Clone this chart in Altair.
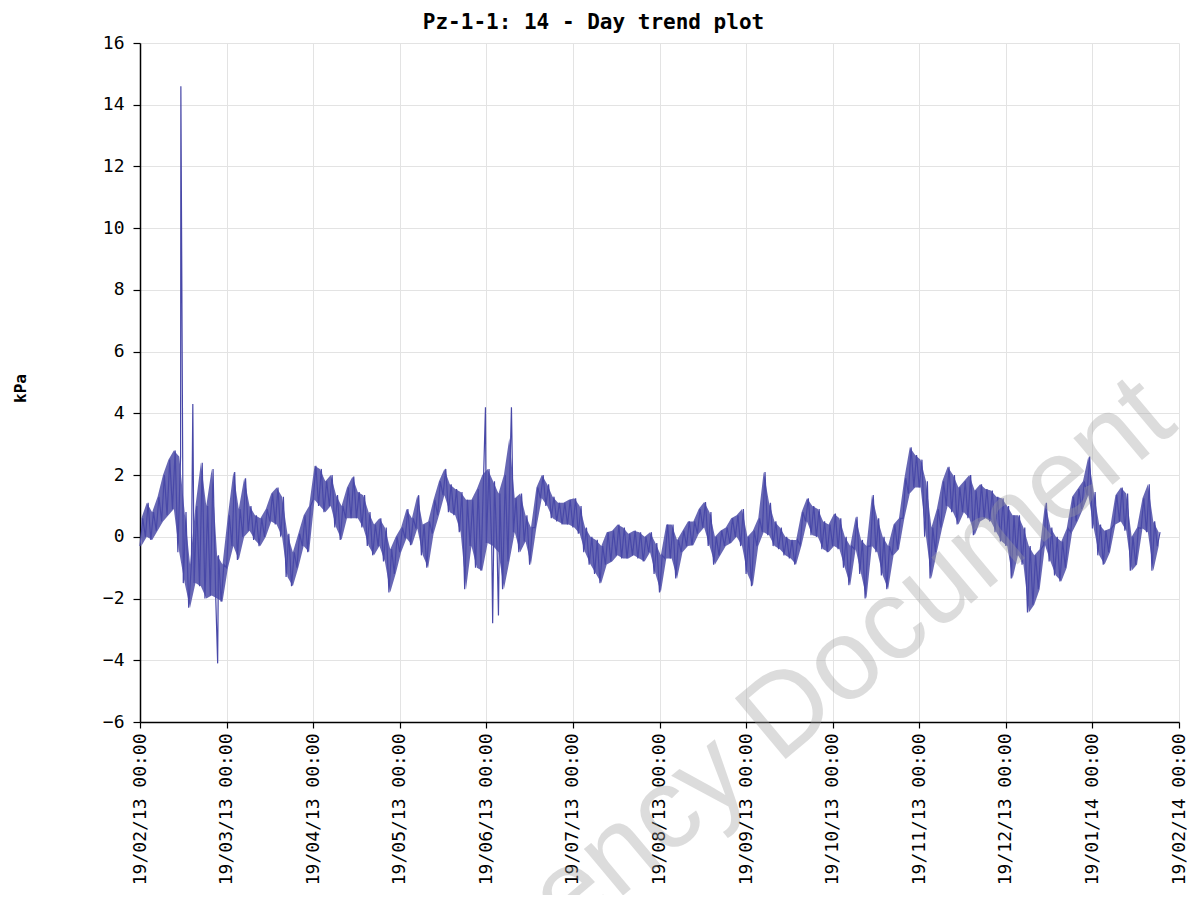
import altair as alt
import pandas as pd

TITLE = "Pz-1-1: 14 - Day trend plot"
Y_TITLE = "kPa"
WATERMARK = "Agency Document"
TICK_DATES = ["19/02/13", "19/03/13", "19/04/13", "19/05/13", "19/06/13", "19/07/13",
              "19/08/13", "19/09/13", "19/10/13", "19/11/13", "19/12/13", "19/01/14", "19/02/14"]
TICK_TIME = "00:00"
Y_TICKS = [-6, -4, -2, 0, 2, 4, 6, 8, 10, 12, 14, 16]

# readings: each sample bucket spans 1/16 month; low / high of the trace in that bucket (kPa)
STEP = 1 / 16
LOW = [-0.3, 0.0, -0.1, 0.2, 0.5, 0.7, 0.9, -0.5, -1.5, -2.3, -1.5, -1.6, -2.0, -1.9, -2.0, -2.1,
       -1.0, -0.3, -0.75, 0.0, 0.2, -0.1, -0.3, 0.0, 0.5, 0.4, 0.0, -1.3, -1.6, -1.0, -0.3, -0.5,
       1.2, 1.0, 0.8, 1.0, 0.3, -0.1, 0.6, 0.6, 0.6, 0.3, -0.3, -0.6, -0.3, -0.8, -1.8, -1.2,
       -0.5, -0.05, -0.27, 0.27, -0.6, -1.0, 0.1, 0.7, 1.35, 0.8, 0.7, 0.15, -1.7, -0.3, -1.0, -1.1,
       -0.2, -0.3, -0.5, -1.7, -0.8, 0.15, -0.5, -0.15, -0.9, 0.3, 1.25, 1.0, 0.6, 0.5, 0.4, 0.4,
       0.3, 0.1, -0.5, -0.9, -1.2, -1.5, -0.9, -0.8, -0.6, -0.7, -0.7, -0.6, -0.7, -0.8, -0.5, -1.2,
       -1.8, -0.7, -0.7, -1.35, -0.5, -0.3, -0.27, 0.1, 0.3, -0.3, -0.9, -0.6, -0.3, -0.2, 0.0, -0.3,
       -1.2, -1.6, -0.3, 0.15, 0.05, -0.3, -0.4, -0.6, -0.7, -0.9, -0.27, 0.5, 0.05, 0.0, -0.4, -0.5,
       -0.3, -0.4, -1.0, -1.57, -0.4, -1.2, -2.0, -0.3, -0.5, -1.25, -1.7, -0.6, -0.4, 0.6, 1.4, 1.6,
       1.6, 0.0, -1.35, -0.5, 0.3, 1.0, 0.8, 0.4, 0.8, 0.6, 0.05, 0.5, 0.6, 0.5, 0.15, -0.15,
       -0.3, -1.35, -0.6, -0.9, -2.45, -2.2, -1.7, -0.27, -0.8, -1.25, -1.45, -1.0, 0.15, 0.5, 0.9, 1.35,
       0.27, -0.6, -0.9, -0.5, 0.4, 0.5, 0.2, -1.1, -0.9, 0.27, 0.15, -1.1, -0.3]
HIGH = [0.6, 1.1, 0.8, 1.3, 2.0, 2.5, 2.8, 2.6, 0.8, -0.9, 1.0, 2.4, 1.0, 2.2, -0.6, -0.9,
        0.7, 2.1, 0.9, 1.9, 1.0, 0.7, 0.6, 0.9, 1.4, 1.6, 1.3, 0.1, -0.5, 0.1, 0.7, 1.0,
        2.3, 2.2, 1.8, 2.0, 1.35, 1.0, 1.6, 1.95, 1.45, 1.35, 0.8, 0.4, 0.6, 0.3, -0.4, 0.0,
        0.3, 0.9, 0.6, 1.35, 0.4, 0.5, 1.2, 1.8, 2.2, 1.7, 1.55, 1.45, 1.2, 1.2, 1.55, 2.0,
        2.2, 1.8, 1.4, 2.0, 3.2, 1.25, 1.4, 0.7, 0.3, 1.6, 2.0, 1.7, 1.3, 1.1, 1.1, 1.2,
        1.25, 1.0, 0.3, 0.0, -0.1, -0.3, 0.15, 0.2, 0.4, 0.3, 0.1, 0.2, 0.15, 0.0, 0.15, -0.2,
        -0.6, 0.4, 0.4, -0.1, 0.2, 0.5, 0.5, 0.9, 1.13, 0.8, 0.0, 0.2, 0.3, 0.6, 0.7, 0.9,
        0.0, 0.2, 0.6, 2.1, 1.1, 0.5, 0.3, 0.0, -0.1, -0.1, 0.8, 1.25, 1.0, 0.9, 0.5, 0.4,
        0.75, 0.6, 0.0, -0.3, 0.65, -0.1, -0.3, 1.35, 0.6, 0.0, -0.3, 0.4, 0.6, 1.9, 2.9, 2.65,
        2.5, 1.8, 0.3, 0.9, 1.8, 2.27, 2.0, 1.6, 1.8, 2.0, 1.5, 1.7, 1.55, 1.5, 1.3, 1.25,
        1.0, 0.7, 0.7, 0.3, -0.3, -0.6, -0.4, 1.1, 0.3, 0.0, -0.15, 0.27, 1.3, 1.55, 1.8, 2.6,
        1.45, 0.4, 0.2, 0.27, 1.35, 1.6, 1.4, 0.0, 0.3, 1.25, 1.7, 0.5, 0.15]
# isolated single-reading spikes (month position, kPa)
SPIKE_MONTH = [0.472, 0.610, 0.897, 3.990, 4.073, 4.140, 4.290]
SPIKE_VALUE = [14.6, 4.3, -4.1, 4.2, -2.8, -2.55, 4.2]

rows = []
band_rows = []
for k, (lo, hi) in enumerate(zip(LOW, HIGH)):
    rows.append({"month": k * STEP, "kPa": lo})
    rows.append({"month": k * STEP + STEP / 2, "kPa": hi})
    band_rows.append({"month": k * STEP + STEP / 4, "lo": lo, "hi": hi})
for m, v in zip(SPIKE_MONTH, SPIKE_VALUE):
    rows.append({"month": m, "kPa": v})
df = pd.DataFrame(rows).sort_values("month").reset_index(drop=True)
band = pd.DataFrame(band_rows)

label_array = "[" + ",".join(f"'{d} {TICK_TIME}'" for d in TICK_DATES) + "]"

MONO = "DejaVu Sans Mono"
TRACE = "#4848a8"

x_enc = alt.X("month:Q",
              scale=alt.Scale(domain=[0, 12], nice=False, zero=False),
              axis=alt.Axis(values=list(range(13)),
                            labelExpr=label_array + "[round(datum.value)]",
                            labelAngle=270, labelAlign="right", labelBaseline="middle",
                            labelFont=MONO, labelFontSize=18, labelPadding=5,
                            tickSize=6, title=None, labelOverlap=False, labelFlush=False))
y_scale = alt.Scale(domain=[-6, 16], nice=False, zero=False)

area = alt.Chart(band).mark_area(color="#5656ac", opacity=0.9).encode(
    x=x_enc,
    y=alt.Y("lo:Q", scale=y_scale,
            axis=alt.Axis(values=Y_TICKS, title=Y_TITLE, labelFont=MONO, labelFontSize=18,
                          labelPadding=9, tickSize=7,
                          titleFont=MONO, titleFontSize=16, titleFontWeight="bold",
                          titleAngle=270, titleX=-120, titleY=345,
                          titleAlign="center", titleBaseline="middle")),
    y2="hi:Q",
)

line = alt.Chart(df).mark_line(color=TRACE, strokeWidth=1.2).encode(
    x="month:Q",
    y="kPa:Q",
)

wm = alt.Chart(pd.DataFrame({"t": [WATERMARK]})).mark_text(
    angle=320, fontSize=115, font="Liberation Sans", color="#a0a0a0", opacity=0.36,
    align="right", baseline="alphabetic",
).encode(x=alt.value(1040), y=alt.value(385), text="t:N")

chart = alt.layer(area, line, wm).properties(
    width=1039, height=679,
    padding={"left": 132, "top": 35, "right": 8, "bottom": 173},
    autosize=alt.AutoSizeParams(type="none"),
    title=alt.TitleParams(TITLE, font=MONO, fontSize=21, fontWeight="bold",
                          anchor="middle", dx=-66, offset=1, color="black"),
).configure_axis(
    gridColor="#e3e3e3", gridWidth=1, domainColor="black", domainWidth=1.5,
    tickColor="black", tickWidth=1.2, labelColor="black", titleColor="black",
).configure_view(stroke=None)

chart.save("out.html", embed_options={"renderer": "svg", "actions": False})
